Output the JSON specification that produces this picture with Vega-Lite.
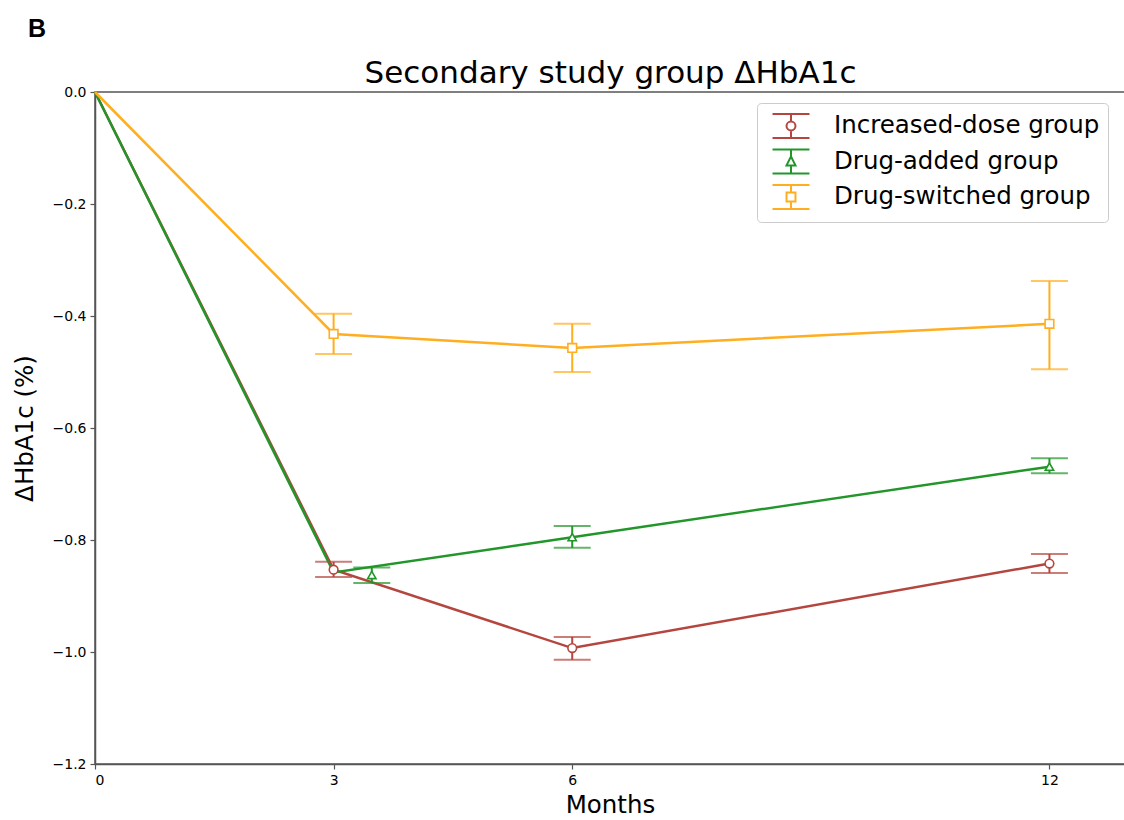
{
  "$schema": "https://vega.github.io/schema/vega-lite/v6.json",
  "autosize": {"type": "none"},
  "padding": {"left": 95, "top": 92, "right": 0, "bottom": 56},
  "width": 1030,
  "height": 672,
  "background": "white",
  "title": {"text": "B", "font": "Liberation Sans", "fontSize": 25, "fontWeight": "bold", "anchor": "start", "frame": "bounds", "offset": 15, "dx": 16, "color": "black"},
  "config": {
    "view": {"stroke": "#555555", "strokeWidth": 1.5},
    "axis": {"grid": false, "labelFont": "DejaVu Sans", "labelFontSize": 14, "labelColor": "black", "titleFont": "DejaVu Sans", "titleFontSize": 24.5, "titleFontWeight": "normal", "titleColor": "black", "domainColor": "#555555", "domainWidth": 1.5, "tickColor": "#555555", "tickSize": 5, "tickWidth": 1.2, "labelPadding": 4},
    "legend": {"labelFont": "DejaVu Sans", "labelFontSize": 24.5, "labelColor": "black", "symbolStrokeWidth": 2, "labelLimit": 500}
  },
  "datasets": {
    "lines": [
      {"group": "Increased-dose group", "month": 0, "value": 0},
      {"group": "Increased-dose group", "month": 3, "value": -0.853},
      {"group": "Increased-dose group", "month": 6, "value": -0.993},
      {"group": "Increased-dose group", "month": 12, "value": -0.842},
      {"group": "Drug-added group", "month": 0, "value": 0},
      {"group": "Drug-added group", "month": 3, "value": -0.858},
      {"group": "Drug-added group", "month": 6, "value": -0.795},
      {"group": "Drug-added group", "month": 12, "value": -0.669},
      {"group": "Drug-switched group", "month": 0, "value": 0},
      {"group": "Drug-switched group", "month": 3, "value": -0.432},
      {"group": "Drug-switched group", "month": 6, "value": -0.457},
      {"group": "Drug-switched group", "month": 12, "value": -0.414}
    ],
    "points": [
      {"group": "Increased-dose group", "month": 3, "value": -0.853, "lo": -0.866, "hi": -0.839},
      {"group": "Increased-dose group", "month": 6, "value": -0.993, "lo": -1.014, "hi": -0.973},
      {"group": "Increased-dose group", "month": 12, "value": -0.842, "lo": -0.859, "hi": -0.825},
      {"group": "Drug-added group", "month": 3.48, "value": -0.8625, "lo": -0.877, "hi": -0.849},
      {"group": "Drug-added group", "month": 6, "value": -0.795, "lo": -0.814, "hi": -0.775},
      {"group": "Drug-added group", "month": 12, "value": -0.669, "lo": -0.681, "hi": -0.654},
      {"group": "Drug-switched group", "month": 3, "value": -0.432, "lo": -0.468, "hi": -0.396},
      {"group": "Drug-switched group", "month": 6, "value": -0.457, "lo": -0.5, "hi": -0.414},
      {"group": "Drug-switched group", "month": 12, "value": -0.414, "lo": -0.495, "hi": -0.3375}
    ]
  },
  "resolve": {"axis": {"x": "independent"}},
  "layer": [
    {
      "data": {"name": "points"},
      "mark": {"type": "point", "filled": false, "fill": "white", "opacity": 0, "strokeWidth": 2},
      "encoding": {
        "x": {"field": "month", "type": "quantitative", "scale": {"domain": [0, 12.95], "nice": false, "zero": false}, "axis": {"orient": "top", "domain": false, "ticks": false, "labels": false, "title": "Secondary study group ΔHbA1c", "titleFontSize": 31, "titleBaseline": "alphabetic", "titleAlign": "center", "titleX": 515, "titleY": -10}},
        "y": {"field": "value", "type": "quantitative", "scale": {"domain": [-1.2, 0], "nice": false}, "axis": {"orient": "left", "values": [-1.2, -1.0, -0.8, -0.6, -0.4, -0.2, 0.0], "format": ".1f", "title": "ΔHbA1c (%)", "titlePadding": 15}},
        "color": {"field": "group", "type": "nominal", "scale": {"domain": ["Increased-dose group", "Drug-added group", "Drug-switched group"], "range": ["#b5463f", "#22962a", "#ffae1f"]}, "legend": {"orient": "none", "legendX": 662, "legendY": 11, "title": null, "symbolSize": 784, "symbolOpacity": 1, "symbolStrokeWidth": 2, "symbolOffset": 11, "labelOffset": 28, "labelLimit": 500, "rowPadding": 1.5, "padding": 8, "strokeColor": "#cccccc", "fillColor": "white", "cornerRadius": 4}},
        "shape": {"field": "group", "type": "nominal", "scale": {"domain": ["Increased-dose group", "Drug-added group", "Drug-switched group"], "range": [
          "M-1.32,-0.86H1.32M-1.32,0.86H1.32M0,-0.86V-0.32M0,0.32V0.86M0.32,0A0.32,0.32,0,1,1,-0.32,0A0.32,0.32,0,1,1,0.32,0ZM0.32,0A0.32,0.32,0,1,0,-0.32,0A0.32,0.32,0,1,0,0.32,0Z",
          "M-1.32,-0.86H1.32M-1.32,0.86H1.32M0,-0.86V-0.36M0,0.28V0.86M0,-0.36L0.32,0.28L-0.32,0.28ZM0,-0.36L-0.32,0.28L0.32,0.28Z",
          "M-1.32,-0.86H1.32M-1.32,0.86H1.32M0,-0.86V-0.32M0,0.32V0.86M-0.32,-0.32H0.32V0.32H-0.32ZM-0.32,-0.32V0.32H0.32V-0.32Z"
        ]}, "legend": {"orient": "none", "legendX": 662, "legendY": 11, "title": null, "symbolSize": 784, "symbolOpacity": 1, "symbolStrokeWidth": 2, "symbolOffset": 11, "labelOffset": 28, "labelLimit": 500, "rowPadding": 1.5, "padding": 8, "strokeColor": "#cccccc", "fillColor": "white", "cornerRadius": 4}}
      }
    },
    {
      "data": {"name": "lines"},
      "mark": {"type": "line", "strokeWidth": 2.5},
      "encoding": {
        "x": {"field": "month", "type": "quantitative", "axis": {"orient": "bottom", "values": [0, 3, 6, 12], "format": "d", "title": "Months", "titlePadding": 6}},
        "y": {"field": "value", "type": "quantitative"},
        "color": {"field": "group", "type": "nominal", "legend": null},
        "order": {"field": "month", "type": "quantitative"}
      }
    },
    {
      "data": {"name": "points"},
      "mark": {"type": "rule", "strokeWidth": 2},
      "encoding": {
        "x": {"field": "month", "type": "quantitative", "axis": null},
        "y": {"field": "lo", "type": "quantitative"},
        "y2": {"field": "hi"},
        "color": {"field": "group", "type": "nominal", "legend": null}
      }
    },
    {
      "data": {"name": "points"},
      "mark": {"type": "tick", "orient": "horizontal", "size": 37, "thickness": 2},
      "encoding": {
        "x": {"field": "month", "type": "quantitative", "axis": null},
        "y": {"field": "lo", "type": "quantitative"},
        "color": {"field": "group", "type": "nominal", "legend": null}
      }
    },
    {
      "data": {"name": "points"},
      "mark": {"type": "tick", "orient": "horizontal", "size": 37, "thickness": 2},
      "encoding": {
        "x": {"field": "month", "type": "quantitative", "axis": null},
        "y": {"field": "hi", "type": "quantitative"},
        "color": {"field": "group", "type": "nominal", "legend": null}
      }
    },
    {
      "data": {"name": "points"},
      "transform": [{"filter": "datum.group === 'Increased-dose group'"}],
      "mark": {"type": "point", "shape": "circle", "filled": false, "fill": "white", "size": 75, "strokeWidth": 1.6, "opacity": 1},
      "encoding": {
        "x": {"field": "month", "type": "quantitative", "axis": null},
        "y": {"field": "value", "type": "quantitative"},
        "color": {"field": "group", "type": "nominal", "legend": null}
      }
    },
    {
      "data": {"name": "points"},
      "transform": [{"filter": "datum.group === 'Drug-added group'"}],
      "mark": {"type": "point", "shape": "triangle-up", "filled": false, "fill": "white", "size": 70, "strokeWidth": 1.6, "opacity": 1},
      "encoding": {
        "x": {"field": "month", "type": "quantitative", "axis": null},
        "y": {"field": "value", "type": "quantitative"},
        "color": {"field": "group", "type": "nominal", "legend": null}
      }
    },
    {
      "data": {"name": "points"},
      "transform": [{"filter": "datum.group === 'Drug-switched group'"}],
      "mark": {"type": "point", "shape": "square", "filled": false, "fill": "white", "size": 75, "strokeWidth": 1.6, "opacity": 1},
      "encoding": {
        "x": {"field": "month", "type": "quantitative", "axis": null},
        "y": {"field": "value", "type": "quantitative"},
        "color": {"field": "group", "type": "nominal", "legend": null}
      }
    }
  ]
}
